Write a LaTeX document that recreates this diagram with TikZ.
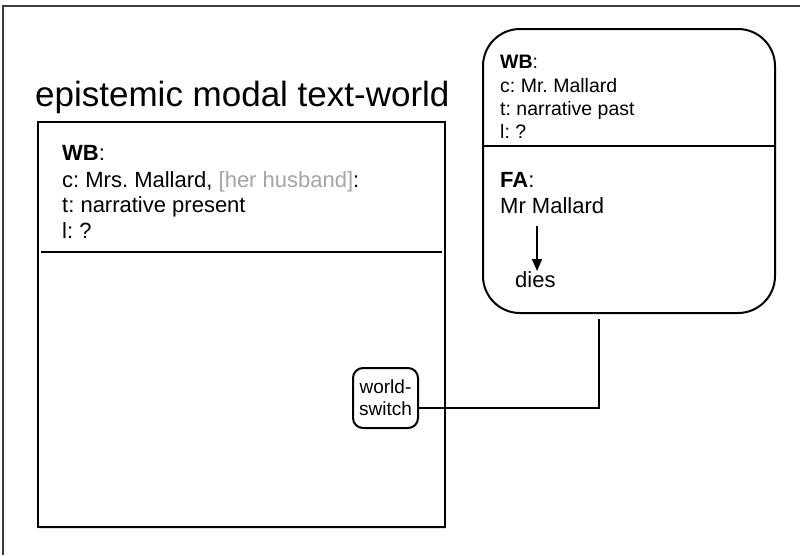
\documentclass[tikz,border=0pt]{standalone}
\usepackage{fontspec}
\setmainfont{Liberation Sans}
\usetikzlibrary{arrows.meta,shadows}
\frenchspacing
\definecolor{framegray}{RGB}{60,60,60}
\definecolor{softgray}{RGB}{165,165,165}
\tikzset{
  worldbox/.style={draw=black, line width=2.6pt, fill=white, inner sep=0pt,
    drop shadow={opacity=0.22, shadow xshift=1pt, shadow yshift=-2pt}},
  futurebox/.style={draw=black, line width=2pt, rounded corners=37pt, inner sep=0pt},
  switchbox/.style={draw=black, line width=2pt, rounded corners=10pt, inner sep=0pt,
    align=center, font=\fontsize{19}{22}\selectfont},
  txtL/.style={anchor=base west, inner sep=0pt, font=\fontsize{22}{26}\selectfont},
  txtR/.style={anchor=base west, inner sep=0pt, font=\fontsize{19.5}{23}\selectfont},
  txtF/.style={anchor=base west, inner sep=0pt, font=\fontsize{22}{26}\selectfont},
  sepline/.style={line width=2pt},
  link/.style={line width=2pt},
  arr/.style={line width=1.6pt, -{Triangle[length=12pt, width=10pt]}},
}
\begin{document}
\begin{tikzpicture}[x=1pt, y=-1pt]
\useasboundingbox (0,0) rectangle (800,555);
% outer frame (top and left edges)
\coordinate (fa) at (3,555);
\coordinate (fb) at (3,6);
\coordinate (fc) at (800,6);
\draw[framegray, line width=2pt] (fa) -- (fb) -- (fc);

% title
\node[anchor=base west, inner sep=0pt, font=\fontsize{35}{40}\selectfont] (title) at (35,106) {epistemic modal text-world};

% left world box
\node[worldbox, minimum width=407pt, minimum height=405pt] (lbox) at (241.5,324.5) {};
\coordinate (ls1) at (41,252);
\coordinate (ls2) at (442,252);
\draw[sepline] (ls1) -- (ls2);
\node[txtL] (lwb) at (62,160) {\textbf{WB}:};
\node[txtL] (lc) at (62,187) {c: Mrs. Mallard, \textcolor{softgray}{[her husband]}:};
\node[txtL] (lt) at (62,212) {t: narrative present};
\node[txtL] (ll) at (62,238) {l: ?};

% right rounded box
\node[futurebox, minimum width=292pt, minimum height=284pt] (rbox) at (629,171) {};
\coordinate (rs1) at (484,146);
\coordinate (rs2) at (774,146);
\draw[sepline] (rs1) -- (rs2);
\node[txtR] (rwb) at (500,68) {\textbf{WB}:};
\node[txtR] (rc) at (500,92) {c: Mr. Mallard};
\node[txtR] (rt) at (500,115) {t: narrative past};
\node[txtR] (rl) at (500,138) {l: ?};
\node[txtF] (fah) at (500,187) {\textbf{FA}:};
\node[txtF] (mm) at (500,213) {Mr Mallard};
\node[txtF] (dies) at (515,287) {dies};
\coordinate (arrtop) at (537,226);
\coordinate (arrend) at (537,271);
\draw[arr] (arrtop) -- (arrend);

% world-switch
\node[switchbox, minimum width=65pt, minimum height=60pt] (ws) at (385.5,398) {world-\\switch};
\coordinate (cend) at (599,319);
\draw[link] ([yshift=-10pt]ws.east) -| (cend);
\end{tikzpicture}
\end{document}
